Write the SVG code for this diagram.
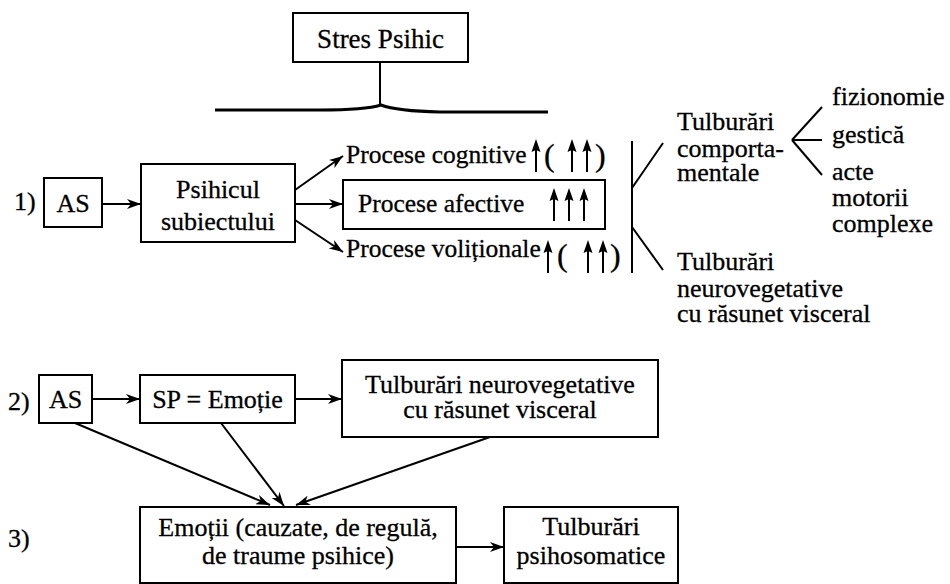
<svg xmlns="http://www.w3.org/2000/svg" width="950" height="584" viewBox="0 0 950 584">
  <style>
    .t { font-family: "Liberation Serif", "Times New Roman", serif; font-size: 26px; fill: #000; stroke: #000; stroke-width: 0.3; }
    .s { font-size: 25.5px; }
    .h { font-size: 27px; }
    .p { font-size: 32px; }
    .m { text-anchor: middle; }
    .box { fill: #fff; stroke: #000; stroke-width: 2; }
    .ln { fill: none; stroke: #000; stroke-width: 2; }
    .arr { fill: none; stroke: #000; stroke-width: 2; marker-end: url(#head); }
  </style>
  <defs>
    <marker id="head" markerUnits="userSpaceOnUse" markerWidth="16" markerHeight="10" refX="14" refY="5" orient="auto">
      <path d="M0,0 L14,5 L0,10 L4,5 z" fill="#000"/>
    </marker>
    <!-- upward arrow used for intensity marks -->
    <g id="up">
      <path d="M0,0 L-4.5,13 L0,11 L4.5,13 z" fill="#000"/>
      <line x1="0" y1="10" x2="0" y2="33" stroke="#000" stroke-width="2"/>
    </g>
  </defs>

  <!-- Stres Psihic header with brace -->
  <g id="stres">
    <rect class="box" x="293" y="13" width="175" height="49"/>
    <text class="t h m" x="380.5" y="48">Stres Psihic</text>
    <line class="ln" x1="380" y1="62" x2="380" y2="106"/>
    <path d="M215,110 L320,110 Q365,110 381,105 Q397,111 440,112 L548,112" fill="none" stroke="#000" stroke-width="3"/>
  </g>

  <!-- Row 1 -->
  <text class="t" x="14" y="210">1)</text>
  <g id="as1">
    <rect class="box" x="44" y="178" width="58" height="49"/>
    <text class="t m" x="73" y="212">AS</text>
  </g>
  <g id="psihicul">
    <rect class="box" x="141" y="164" width="154" height="78"/>
    <text class="t m" x="218" y="198">Psihicul</text>
    <text class="t m" x="218" y="230">subiectului</text>
  </g>
  <g id="cognitive">
    <text class="t s" x="346" y="163">Procese cognitive</text>
    <use href="#up" x="536" y="139"/>
    <text class="t p" x="544" y="166">(</text>
    <use href="#up" x="572" y="139"/>
    <use href="#up" x="587" y="139"/>
    <text class="t p" x="595" y="166">)</text>
  </g>
  <g id="afective">
    <rect class="box" x="343" y="180" width="262" height="49"/>
    <text class="t s" x="358" y="212">Procese afective</text>
    <use href="#up" x="554" y="188"/>
    <use href="#up" x="569" y="188"/>
    <use href="#up" x="584" y="188"/>
  </g>
  <g id="volitionale">
    <text class="t s" x="346" y="257">Procese voliționale</text>
    <use href="#up" x="548" y="240"/>
    <text class="t p" x="557" y="266">(</text>
    <use href="#up" x="588" y="240"/>
    <use href="#up" x="603" y="240"/>
    <text class="t p" x="610" y="266">)</text>
  </g>
  <g id="comportamentale">
    <text class="t" x="677" y="130">Tulburări</text>
    <text class="t" x="677" y="157">comporta-</text>
    <text class="t" x="677" y="181">mentale</text>
  </g>
  <g id="manifestari">
    <text class="t" x="832" y="105">fizionomie</text>
    <text class="t" x="832" y="143">gestică</text>
    <text class="t" x="832" y="180">acte</text>
    <text class="t" x="832" y="206">motorii</text>
    <text class="t" x="832" y="232">complexe</text>
  </g>
  <g id="neurovegetative1">
    <text class="t" x="677" y="270">Tulburări</text>
    <text class="t" x="677" y="297">neurovegetative</text>
    <text class="t" x="677" y="322">cu răsunet visceral</text>
  </g>

  <!-- Row 2 -->
  <text class="t" x="8" y="410">2)</text>
  <g id="as2">
    <rect class="box" x="39" y="375" width="53" height="48"/>
    <text class="t m" x="65.5" y="408">AS</text>
  </g>
  <g id="sp">
    <rect class="box" x="140" y="375" width="155" height="48"/>
    <text class="t m" x="217.5" y="408">SP = Emoție</text>
  </g>
  <g id="neurovegetative2">
    <rect class="box" x="342" y="360" width="316" height="77"/>
    <text class="t m" x="500" y="393">Tulburări neurovegetative</text>
    <text class="t m" x="500" y="418">cu răsunet visceral</text>
  </g>

  <!-- Row 3 -->
  <text class="t" x="8" y="547">3)</text>
  <g id="emotii">
    <rect class="box" x="140" y="507" width="316" height="76"/>
    <text class="t m" x="298" y="536">Emoții (cauzate, de regulă,</text>
    <text class="t m" x="298" y="564">de traume psihice)</text>
  </g>
  <g id="psihosomatice">
    <rect class="box" x="504" y="507" width="174" height="76"/>
    <text class="t m" x="591" y="535">Tulburări</text>
    <text class="t m" x="591" y="564">psihosomatice</text>
  </g>

  <!-- Connectors -->
  <g id="connectors">
    <line class="arr" x1="102" y1="204" x2="141" y2="204"/>
    <line class="arr" x1="295" y1="190" x2="343" y2="156"/>
    <line class="arr" x1="295" y1="204" x2="343" y2="204"/>
    <line class="arr" x1="295" y1="220" x2="343" y2="252"/>
    <line class="ln" x1="632" y1="141" x2="632" y2="273"/>
    <line class="ln" x1="632" y1="188" x2="663" y2="143"/>
    <line class="ln" x1="632" y1="227" x2="663" y2="270"/>
    <line class="ln" x1="822" y1="107" x2="792" y2="140"/>
    <line class="ln" x1="792" y1="140" x2="822" y2="140"/>
    <line class="ln" x1="792" y1="140" x2="822" y2="175"/>
    <line class="arr" x1="92" y1="399" x2="140" y2="399"/>
    <line class="arr" x1="295" y1="399" x2="342" y2="399"/>
    <line class="arr" x1="75" y1="423" x2="270" y2="505"/>
    <line class="arr" x1="221" y1="423" x2="284" y2="506"/>
    <line class="arr" x1="490" y1="437" x2="296" y2="505"/>
    <line class="arr" x1="456" y1="547" x2="504" y2="547"/>
  </g>
</svg>
